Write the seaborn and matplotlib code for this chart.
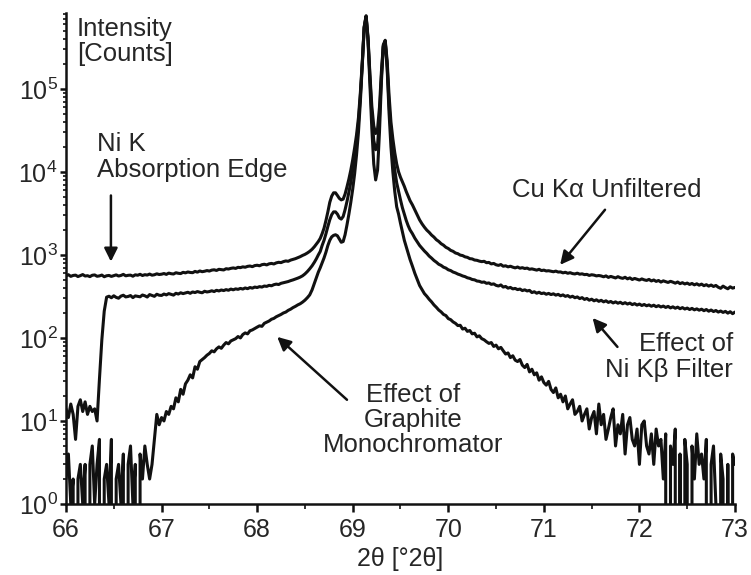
import numpy as np
import matplotlib
matplotlib.use("Agg")
import matplotlib.pyplot as plt
from matplotlib.ticker import LogLocator, MultipleLocator
import seaborn as sns

# 2theta scan steps (coarse / fine around the K-alpha doublet / coarse)
two_theta = np.round(np.concatenate([
    np.arange(66.0, 68.6001, 0.025),
    np.arange(68.62, 69.6001, 0.02),
    np.arange(69.625, 73.0001, 0.025),
]), 3)

# Cu K-alpha unfiltered
unfiltered_a = [
    560, 578, 552, 566, 571, 549, 563, 580, 557, 562,
    548, 569, 574, 553, 559, 572, 546, 561, 566, 551,
    563, 575, 557, 566, 583, 560, 568, 571, 554, 576,
    569, 584, 565, 578, 572, 588, 570, 577, 592, 581,
    586, 597, 583, 604, 594, 589, 610, 601, 596, 617,
    608, 623, 615, 611, 633, 620, 641, 628, 636, 648,
    639, 656, 662, 650, 671, 665, 659, 682, 676, 689,
    697, 688, 709, 703, 718, 711, 728, 735, 722, 744,
    751, 740, 763, 772, 758, 781, 790, 778, 802, 815,
    808, 831, 846, 838, 866, 882, 901, 925, 952, 986,
    1015, 1055, 1105, 1170, 1260,
]
unfiltered_b = [
    1350, 1450, 1580, 1800, 2100, 2600, 3300, 4300, 5100, 5600,
    5600, 5200, 4800, 4600, 4700, 5400, 6600, 8200, 10500, 14000,
    19500, 28000, 45000, 90000, 210000, 560000, 760000, 420000, 150000, 62000,
    36000, 29000, 33000, 60000, 160000, 340000, 385000, 220000, 85000, 40000,
    25000, 17000, 12500, 10000, 8600, 7600, 6700, 5800, 5100, 4500,
]
unfiltered_c = [
    4000, 3480, 3020, 2640, 2370, 2160, 1990, 1870, 1735, 1640,
    1525, 1455, 1365, 1310, 1235, 1195, 1135, 1105, 1055, 1035,
    995, 982, 948, 935, 902, 895, 868, 861, 842, 830,
    838, 806, 812, 779, 790, 761, 748, 766, 731, 740,
    718, 731, 712, 698, 715, 692, 702, 686, 694, 672,
    679, 668, 656, 671, 648, 656, 641, 645, 636, 627,
    638, 622, 624, 608, 618, 601, 611, 596, 590, 603,
    586, 592, 579, 583, 566, 577, 571, 559, 565, 558,
    545, 559, 536, 551, 540, 528, 547, 531, 522, 538,
    515, 529, 506, 521, 510, 498, 514, 501, 493, 507,
    486, 499, 480, 492, 471, 487, 476, 466, 481, 470,
    457, 472, 451, 463, 447, 458, 441, 453, 436, 449,
    432, 445, 426, 438, 421, 434, 417, 429, 408, 396,
    421, 404, 391, 413, 398, 406,
]

# with Ni K-beta filter
ni_filter_a = [
    14, 11, 16, 12, 6, 15, 18, 13, 17, 12,
    15, 13, 14, 10, 32, 95, 210, 310, 318, 305,
    322, 308, 301, 319, 327, 312, 316, 324, 306, 321,
    317, 313, 329, 322, 311, 333, 325, 317, 336, 327,
    325, 338, 330, 342, 335, 328, 345, 338, 350, 342,
    348, 355, 345, 358, 352, 362, 355, 350, 365, 358,
    362, 370, 362, 375, 368, 378, 372, 382, 375, 388,
    380, 390, 385, 395, 388, 400, 392, 405, 398, 410,
    405, 415, 410, 422, 418, 430, 425, 438, 445, 440,
    455, 462, 470, 478, 490, 500, 512, 525, 540, 560,
    590, 630, 680, 740, 820,
]
ni_filter_b = [
    900, 1000, 1100, 1300, 1500, 1800, 2200, 2650, 3050, 3300,
    3300, 3100, 2800, 2700, 2900, 3500, 4400, 5700, 7500, 10500,
    15000, 23000, 39000, 82000, 200000, 550000, 750000, 400000, 135000, 48000,
    24000, 18500, 21000, 45000, 140000, 330000, 375000, 195000, 66000, 30000,
    17000, 10500, 7400, 5800, 4600, 3700, 3100, 2600, 2250, 2000,
]
ni_filter_c = [
    1800, 1590, 1440, 1300, 1205, 1115, 1045, 968, 915, 858,
    818, 772, 748, 712, 694, 662, 648, 622, 608, 588,
    575, 558, 548, 530, 522, 506, 501, 485, 481, 468,
    472, 455, 460, 442, 448, 430, 422, 435, 410, 417,
    398, 406, 390, 395, 382, 388, 372, 380, 368, 374,
    352, 360, 346, 355, 342, 348, 336, 344, 333, 340,
    328, 335, 322, 330, 317, 324, 310, 318, 305, 312,
    298, 306, 291, 299, 285, 293, 280, 288, 276, 284,
    272, 280, 268, 275, 264, 272, 262, 269, 258, 266,
    256, 263, 252, 259, 249, 256, 246, 253, 244, 250,
    241, 248, 238, 245, 236, 242, 233, 240, 230, 237,
    228, 235, 225, 232, 223, 229, 220, 227, 218, 224,
    216, 222, 213, 220, 210, 217, 208, 214, 205, 211,
    203, 209, 199, 207, 196, 205,
]

# with graphite monochromator
graphite_a = [
    2, 4, 1, 2, 0, 2, 3, 1, 3, 0,
    3, 5, 1, 3, 6, 0, 2, 3, 1, 6,
    0, 2, 3, 1, 4, 0, 3, 5, 1, 3,
    0, 4, 2, 5, 3, 2, 3, 6, 12, 9,
    11, 10, 13, 12, 15, 14, 19, 17, 24, 21,
    28, 31, 36, 33, 45, 42, 52, 55, 58, 62,
    65, 70, 68, 74, 78, 75, 82, 88, 85, 92,
    95, 98, 104, 100, 110, 115, 112, 122, 125, 130,
    135, 140, 138, 150, 155, 160, 168, 172, 180, 186,
    192, 200, 205, 215, 222, 232, 240, 250, 258, 270,
    285, 305, 330, 380, 460,
]
graphite_b = [
    540, 620, 700, 800, 920, 1080, 1300, 1500, 1650, 1720,
    1750, 1700, 1550, 1420, 1450, 1750, 2300, 3100, 4300, 6200,
    9500, 16000, 30000, 70000, 190000, 540000, 740000, 380000, 115000, 33000,
    12500, 8000, 10500, 30000, 120000, 320000, 370000, 180000, 52000, 20000,
    10000, 5800, 3800, 3100, 2400, 1900, 1500, 1250, 1050, 880,
]
graphite_c = [
    730, 600, 505, 428, 382, 342, 318, 292, 272, 250,
    234, 217, 206, 192, 186, 171, 166, 156, 150, 141,
    142, 128, 131, 120, 123, 112, 114, 103, 106, 98,
    95, 90, 86, 88, 79, 82, 74, 77, 70, 64,
    66, 58, 61, 54, 52, 55, 47, 44, 48, 39,
    42, 36, 38, 31, 34, 29, 27, 30, 24, 22,
    25, 19, 21, 17, 20, 14, 16, 18, 12, 13,
    15, 10, 12, 14, 8, 11, 13, 7, 16, 9,
    12, 6, 8, 11, 14, 5, 9, 7, 12, 4,
    9, 11, 6, 5, 8, 3, 9, 10, 5, 4,
    7, 3, 8, 5, 6, 2, 7, 0, 5, 3,
    8, 0, 4, 0, 6, 3, 0, 5, 2, 7,
    3, 4, 2, 6, 0, 3, 5, 1, 0, 4,
    2, 0, 3, 0, 4, 3,
]

unfiltered = np.array(unfiltered_a + unfiltered_b + unfiltered_c, dtype=float)
ni_filter = np.array(ni_filter_a + ni_filter_b + ni_filter_c, dtype=float)
graphite = np.array(graphite_a + graphite_b + graphite_c, dtype=float)

sns.set_style("ticks")
plt.rcParams["font.family"] = ["Liberation Sans", "DejaVu Sans"]
plt.rcParams["mathtext.fontset"] = "custom"
plt.rcParams["mathtext.rm"] = "Liberation Sans"
plt.rcParams["mathtext.it"] = "Liberation Sans:italic"

fig = plt.figure(figsize=(7.51, 5.75), dpi=100)
ax = fig.add_axes([66 / 751, 1 - 504 / 575, 669 / 751, 491 / 575])

ink = "#111111"
for counts in (unfiltered, ni_filter, graphite):
    sns.lineplot(x=two_theta, y=counts, ax=ax, color=ink, linewidth=2.2,
                 estimator=None, sort=False)

ax.set_yscale("log")
ax.set_xlim(66, 73)
ax.set_ylim(1, 8.2e5)
ax.xaxis.set_major_locator(MultipleLocator(1))
ax.xaxis.set_minor_locator(MultipleLocator(0.5))
ax.yaxis.set_major_locator(LogLocator(base=10, numticks=12))
ax.yaxis.set_minor_locator(LogLocator(base=10, subs=np.arange(2, 10), numticks=12))

sns.despine(ax=ax)
for side in ("left", "bottom"):
    ax.spines[side].set_linewidth(1.8)
    ax.spines[side].set_color(ink)
ax.tick_params(which="major", width=1.8, direction="out", labelsize=18, color=ink)
ax.tick_params(axis="x", which="major", length=6, pad=4)
ax.tick_params(axis="y", which="major", length=4, pad=2)
ax.tick_params(which="minor", width=1.2, direction="out", color=ink)
ax.tick_params(axis="x", which="minor", length=3.5)
ax.tick_params(axis="y", which="minor", length=2.5)

ax.set_xlabel("2θ [°2θ]", fontsize=18, labelpad=4)
ax.set_ylabel("")

fs = 18.5
ax.text(66.115, 7.3e5, "Intensity\n[Counts]", fontsize=fs, ha="left", va="top",
        linespacing=1.05)
ax.text(66.32, 1.5e4, "Ni K\nAbsorption Edge", fontsize=fs, ha="left",
        va="center", linespacing=1.1)
ax.text(71.66, 6.0e3, "Cu Kα Unfiltered", fontsize=fs, ha="center", va="center")
ax.text(72.98, 59, "Effect of\nNi Kβ Filter", fontsize=fs, ha="right",
        va="center", multialignment="right", linespacing=1.1)
ax.text(69.63, 10.2, "Effect of\nGraphite\nMonochromator", fontsize=fs,
        ha="center", va="center", multialignment="center", linespacing=1.05)

arrow = dict(arrowstyle="-|>", color=ink, lw=1.8, mutation_scale=20,
             shrinkA=0, shrinkB=0)
ax.annotate("", xy=(66.47, 830), xytext=(66.47, 5200), arrowprops=arrow)
ax.annotate("", xy=(71.17, 760), xytext=(71.64, 3500), arrowprops=arrow)
ax.annotate("", xy=(71.51, 174), xytext=(71.77, 78), arrowprops=arrow)
ax.annotate("", xy=(68.21, 103), xytext=(68.94, 18), arrowprops=arrow)

fig.savefig("out.png", dpi=100)
